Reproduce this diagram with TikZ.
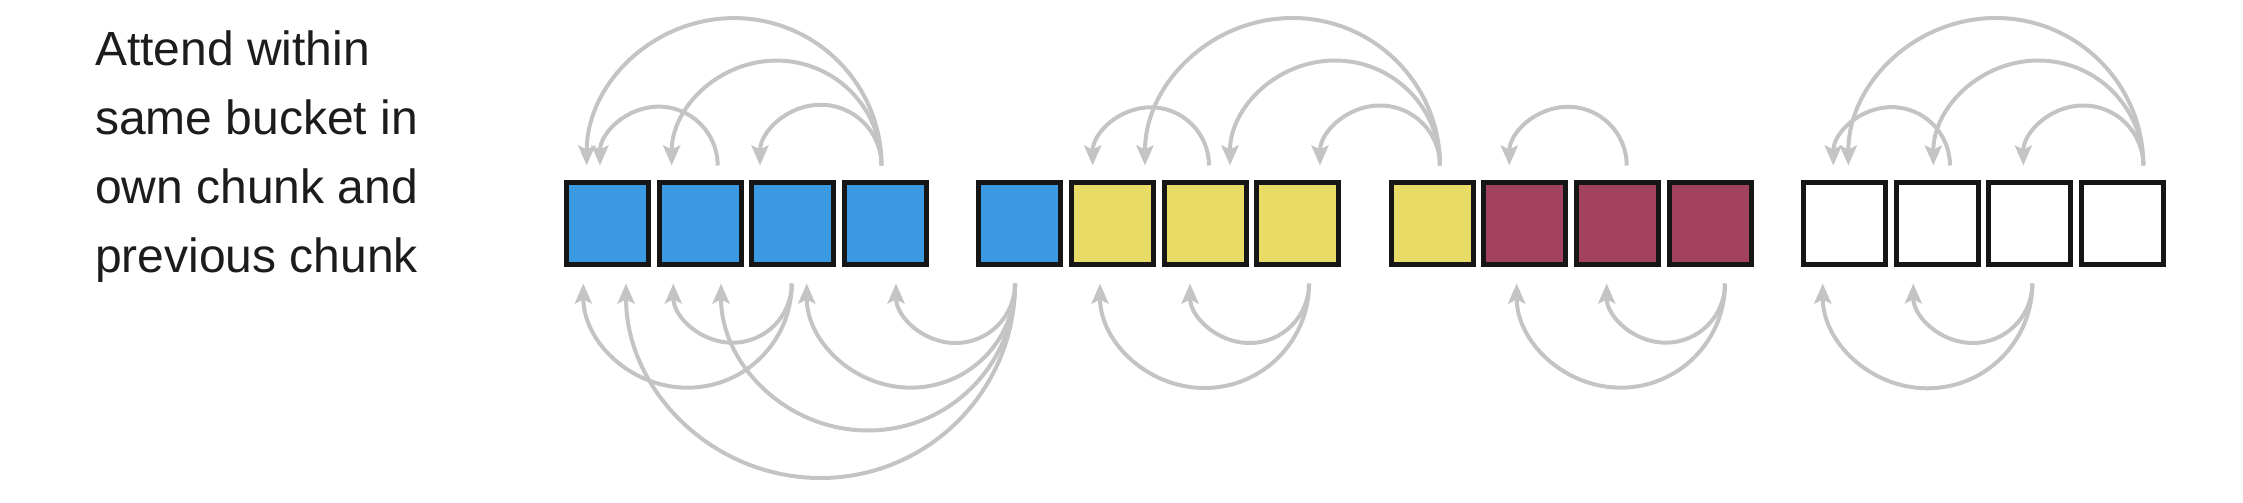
\documentclass[tikz,border=0pt]{standalone}
\usepackage{fontspec}
\setmainfont{Liberation Sans}
\usetikzlibrary{arrows.meta,calc}
\definecolor{cblue}{HTML}{3B9AE1}
\definecolor{cyel}{HTML}{E8DC66}
\definecolor{cred}{HTML}{A3425F}
\definecolor{cgray}{HTML}{C4C4C4}
\definecolor{cline}{HTML}{161616}
\definecolor{ctext}{HTML}{1C1C1C}
\begin{document}
\begin{tikzpicture}[x=1pt,y=1pt,
  cell/.style={draw=cline,line width=5pt,minimum width=82pt,minimum height=82pt,inner sep=0pt,outer sep=0pt},
  conn/.style={draw=cgray,line width=4pt,-{Stealth[length=20pt,width=17pt,inset=4pt]}},
  desc/.style={anchor=north west,align=left,inner sep=0pt,text=ctext,font=\fontsize{48}{69}\selectfont}]
\useasboundingbox (0,0) rectangle (2243,-503);
\node[desc] (txt) at (95,-30.5) {Attend within\\same bucket in\\own chunk and\\previous chunk};
% cells
\node[cell,fill=cblue] (b1) at (607.5,-223.5) {};
\node[cell,fill=cblue] (b2) at (700.17,-223.5) {};
\node[cell,fill=cblue] (b3) at (792.83,-223.5) {};
\node[cell,fill=cblue] (b4) at (885.5,-223.5) {};
\node[cell,fill=cblue] (b5) at (1019.83,-223.5) {};
\node[cell,fill=cyel] (b6) at (1112.5,-223.5) {};
\node[cell,fill=cyel] (b7) at (1205.17,-223.5) {};
\node[cell,fill=cyel] (b8) at (1297.83,-223.5) {};
\node[cell,fill=cyel] (b9) at (1432.17,-223.5) {};
\node[cell,fill=cred] (b10) at (1524.83,-223.5) {};
\node[cell,fill=cred] (b11) at (1617.5,-223.5) {};
\node[cell,fill=cred] (b12) at (1710.17,-223.5) {};
\node[cell,fill=white] (b13) at (1844.5,-223.5) {};
\node[cell,fill=white] (b14) at (1937.17,-223.5) {};
\node[cell,fill=white] (b15) at (2029.83,-223.5) {};
\node[cell,fill=white] (b16) at (2122.5,-223.5) {};
% top arcs
\draw[conn] ($(b2.north)+(17.5,17)$) arc[start angle=0,end angle=180,radius=58.85];
\draw[conn] ($(b4.north)+(-4,17)$) arc[start angle=0,end angle=180,radius=60.75];
\draw[conn] ($(b4.north)+(-4,17)$) arc[start angle=0,end angle=180,radius=104.9];
\draw[conn] ($(b4.north)+(-4,17)$) arc[start angle=0,end angle=180,radius=147.4];
\draw[conn] ($(b7.north)+(3.8,17)$) arc[start angle=0,end angle=180,radius=58.15];
\draw[conn] ($(b9.north)+(7.8,17)$) arc[start angle=0,end angle=180,radius=60];
\draw[conn] ($(b9.north)+(7.8,17)$) arc[start angle=0,end angle=180,radius=105];
\draw[conn] ($(b9.north)+(7.8,17)$) arc[start angle=0,end angle=180,radius=147.5];
\draw[conn] ($(b11.north)+(9.2,17)$) arc[start angle=0,end angle=180,radius=58.7];
\draw[conn] ($(b14.north)+(12.8,17)$) arc[start angle=0,end angle=180,radius=58.35];
\draw[conn] ($(b16.north)+(20.8,17)$) arc[start angle=0,end angle=180,radius=60];
\draw[conn] ($(b16.north)+(20.8,17)$) arc[start angle=0,end angle=180,radius=105];
\draw[conn] ($(b16.north)+(20.8,17)$) arc[start angle=0,end angle=180,radius=147.5];
% bottom arcs
\draw[conn] ($(b3.south)+(-1.1,-19)$) arc[start angle=0,end angle=-180,radius=59.2];
\draw[conn] ($(b3.south)+(-1.1,-19)$) arc[start angle=0,end angle=-180,radius=104.2];
\draw[conn] ($(b5.south)+(-4.8,-19)$) arc[start angle=0,end angle=-180,radius=59.5];
\draw[conn] ($(b5.south)+(-4.8,-19)$) arc[start angle=0,end angle=-180,radius=104.15];
\draw[conn] ($(b5.south)+(-4.8,-19)$) arc[start angle=0,end angle=-180,radius=147];
\draw[conn] ($(b5.south)+(-4.8,-19)$) arc[start angle=0,end angle=-180,radius=194.5];
\draw[conn] ($(b8.south)+(11.2,-19)$) arc[start angle=0,end angle=-180,radius=59.5];
\draw[conn] ($(b8.south)+(11.2,-19)$) arc[start angle=0,end angle=-180,radius=104.5];
\draw[conn] ($(b12.south)+(14.8,-19)$) arc[start angle=0,end angle=-180,radius=59.15];
\draw[conn] ($(b12.south)+(14.8,-19)$) arc[start angle=0,end angle=-180,radius=104.15];
\draw[conn] ($(b15.south)+(2.5,-19)$) arc[start angle=0,end angle=-180,radius=59.5];
\draw[conn] ($(b15.south)+(2.5,-19)$) arc[start angle=0,end angle=-180,radius=104.8];
\end{tikzpicture}
\end{document}
